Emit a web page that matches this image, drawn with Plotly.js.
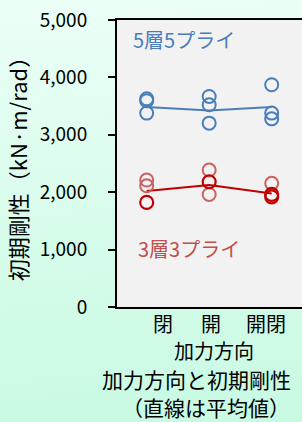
<!DOCTYPE html>
<html>
<head>
<meta charset="utf-8">
<script src="https://cdn.plot.ly/plotly-3.0.1.min.js"></script>
<style>
  html, body { margin: 0; padding: 0; width: 302px; height: 422px; overflow: hidden; }
  body { background: linear-gradient(175deg, #ecfff7 0%, #d6fcea 55%, #c8fae2 100%); }
  #chart { width: 302px; height: 422px; }
</style>
</head>
<body>
<div id="chart"></div>
<script>
// ---- data ----
const categories = ['閉', '開', '開閉'];

// 5層5プライ (blue) individual specimens per category
const blueVals = [[3628, 3593, 3378], [3668, 3523, 3203], [3872, 3378, 3278]];
const blueMean = [3483, 3423, 3483];

// 3層3プライ (red) individual specimens: lighter and darker markers
const redLightVals = [[2212, 2112], [2386, 1961], [2154]];
const redDarkVals = [[1822], [2182], [1961, 1920]];
const redMean = [2019, 2124, 1979];

const yTitle = '初期剛性（kN·m/rad）';
const xTitle = '加力方向';
const caption1 = '加力方向と初期剛性';
const caption2 = '（直線は平均値）';
const label5 = '5層5プライ';
const label3 = '3層3プライ';

// ---- helpers ----
function flatten(groups) {
  const xs = [], ys = [];
  groups.forEach((g, i) => g.forEach(v => { xs.push(categories[i]); ys.push(v); }));
  return { x: xs, y: ys };
}

const FONT = '"Noto Sans CJK JP", "Noto Sans", sans-serif';
const BLUE = '#4a7ebb';
const RED_DARK = '#c00000';
const RED_LIGHT = '#c96262';

const b = flatten(blueVals), rl = flatten(redLightVals), rd = flatten(redDarkVals);

const traces = [
  { type: 'scatter', mode: 'lines', x: categories, y: blueMean,
    line: { color: BLUE, width: 2 }, hoverinfo: 'skip' },
  { type: 'scatter', mode: 'lines', x: categories, y: redMean,
    line: { color: RED_DARK, width: 2 }, hoverinfo: 'skip' },
  { type: 'scatter', mode: 'markers', x: b.x, y: b.y,
    marker: { symbol: 'circle-open', size: 13, color: BLUE, line: { width: 2, color: BLUE } } },
  { type: 'scatter', mode: 'markers', x: rl.x, y: rl.y,
    marker: { symbol: 'circle-open', size: 13, color: RED_LIGHT, line: { width: 2, color: RED_LIGHT } } },
  { type: 'scatter', mode: 'markers', x: rd.x, y: rd.y,
    marker: { symbol: 'circle-open', size: 13, color: RED_DARK, line: { width: 2.2, color: RED_DARK } } }
];

const tickShift = [16, 2, -6];
const annotations = categories.map((c, i) => ({
  x: c, xref: 'x', y: 0, yref: 'paper', yanchor: 'middle', xanchor: 'center',
  yshift: -16, xshift: tickShift[i], showarrow: false, borderpad: 0,
  text: c, font: { family: FONT, size: 20, color: '#000' }
}));

function px2paperX(px) { return (px - 117) / 185; }
function py2paperY(py) { return (307 - py) / 287; }

annotations.push(
  { xref: 'paper', yref: 'paper', x: px2paperX(214), y: py2paperY(350.5), xanchor: 'center', yanchor: 'middle',
    showarrow: false, borderpad: 0, text: xTitle, font: { family: FONT, size: 20, color: '#000' } },
  { xref: 'paper', yref: 'paper', x: px2paperX(196), y: py2paperY(378.6), xanchor: 'center', yanchor: 'middle',
    showarrow: false, borderpad: 0, text: caption1, font: { family: FONT, size: 21, color: '#000' } },
  { xref: 'paper', yref: 'paper', x: px2paperX(206), y: py2paperY(407), xanchor: 'center', yanchor: 'middle',
    showarrow: false, borderpad: 0, text: caption2, font: { family: FONT, size: 21, color: '#000' } },
  { xref: 'paper', yref: 'y', x: px2paperX(131), y: 4659, xanchor: 'left', yanchor: 'middle',
    showarrow: false, text: label5, font: { family: FONT, size: 20, color: BLUE } },
  { xref: 'paper', yref: 'y', x: px2paperX(136), y: 1023, xanchor: 'left', yanchor: 'middle',
    showarrow: false, text: label3, font: { family: FONT, size: 20, color: '#c0504d' } }
);

const layout = {
  width: 302, height: 422,
  margin: { l: 117, r: 0, t: 20, b: 115, pad: 0 },
  paper_bgcolor: 'rgba(0,0,0,0)',
  plot_bgcolor: '#f2f2f2',
  showlegend: false,
  font: { family: FONT, color: '#000' },
  xaxis: {
    type: 'category', categoryarray: categories, range: [-0.475, 2.485],
    showline: true, linecolor: '#000', linewidth: 2, mirror: true,
    ticks: '', showticklabels: false, showgrid: false, zeroline: false, fixedrange: true
  },
  yaxis: {
    range: [0, 5000], tickvals: [0, 1000, 2000, 3000, 4000, 5000], tickformat: ',d',
    showline: true, linecolor: '#000', linewidth: 2,
    ticks: 'outside', ticklen: 7, tickwidth: 2, tickcolor: '#000',
    ticklabelstandoff: 17,
    tickfont: { family: FONT, size: 19, color: '#000' },
    showgrid: false, zeroline: false, fixedrange: true,
    title: { text: yTitle, font: { family: FONT, size: 22, color: '#000' }, standoff: 6 }
  },
  annotations: annotations
};

Plotly.newPlot('chart', traces, layout, { staticPlot: true, displayModeBar: false });
</script>
</body>
</html>
